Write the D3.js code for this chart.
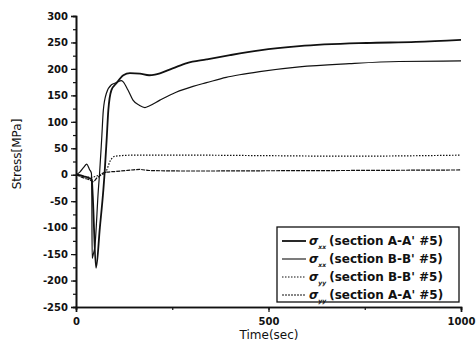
<!DOCTYPE html>
<html><head><meta charset="utf-8">
<script src="https://cdn.jsdelivr.net/npm/d3@7"></script>
<style>
body{margin:0;background:#fff;}
svg text{font-family:"DejaVu Sans",sans-serif;font-weight:bold;fill:#111;}
</style></head><body>
<svg id="c" width="476" height="353"></svg>
<script>
// ---- data ----
const xTicks = [0, 500, 1000];
const yTicks = [-250, -200, -150, -100, -50, 0, 50, 100, 150, 200, 250, 300];

const tA = [0,10,20,30,36,41,43.5,52,62,71,74,79.5,84,92,105,123,140,166,190,205,251,288,339,400,477,580,754,883,1000];
const vA = [0,-1,-3,-5,-7,-9,-40,-176,-100,-29,0,65,122,160,173,188,192,191,188,189,201,211,218,226,235,243,249,251,255];

const tB = [0,10,20,28,35,40,41,42,45,49,58,61,66.5,71,79,92,105,118,122,135,148,165,179,190,218,260,304,339,390,425,477,580,710,839,1000];
const vB = [0,5,14,20,10,3,-30,-158,-150,-136,-29,0,65,122,154,170,174,178,176,160,141,131,127,130,141,156,167,174,184,189,195,204,210,214,215];

const tC = [0,20,40,55,65,72,78,83,88,95,101,150,300,500,700,1000];
const vC = [0,-3,-5,-2,0,2,6,15,25,32,35,37,37,36,35,37];

const tD = [0,20,36,45,53,62,70,80,100,130,166,190,300,500,700,1000];
const vD = [0,-6,-10,-13,-7,-2,3,5,6,8,10,8,7,7.5,8,9];

const seriesNames = ["xx","xx","yy","yy"];
const seriesLabels = ["(section A-A' #5)","(section B-B' #5)","(section B-B' #5)","(section A-A' #5)"];

// ---- chart ----
const svg = d3.select("#c");
const L = 76, R = 461, T = 16, B = 307;
const x = d3.scaleLinear().domain([0,1000]).range([L,R]);
const y = d3.scaleLinear().domain([-250,300]).range([B,T]);
const fmt = d => String(d);

// minor ticks
svg.append("g").attr("transform",`translate(0,${B})`)
  .call(d3.axisBottom(x).tickValues(d3.range(0,1001,250)).tickSize(3).tickFormat(""));
svg.append("g").attr("transform",`translate(0,${B})`)
  .call(d3.axisBottom(x).tickValues(xTicks).tickSize(5).tickPadding(6).tickFormat(fmt));
svg.append("g").attr("transform",`translate(${L},0)`)
  .call(d3.axisLeft(y).tickValues(d3.range(-250,301,25)).tickSize(3).tickFormat(""));
svg.append("g").attr("transform",`translate(${L},0)`)
  .call(d3.axisLeft(y).tickValues(yTicks).tickSize(5).tickPadding(3).tickFormat(fmt));
svg.selectAll(".domain").attr("stroke","#111").attr("stroke-width",1.6);
svg.selectAll(".tick line").attr("stroke","#111").attr("stroke-width",1.2);
svg.selectAll(".tick text").style("font-size","10px").style("font-family","'DejaVu Sans',sans-serif").style("font-weight","bold").attr("fill","#111");

// titles
svg.append("text").attr("x",269).attr("y",339).attr("text-anchor","middle")
  .style("font-size","12px").style("font-weight","normal").text("Time(sec)");
svg.append("text").attr("transform","translate(21,154) rotate(-90)").attr("text-anchor","middle")
  .style("font-size","12px").style("font-weight","normal").text("Stress[MPa]");

// lines
const styles = [
  {w:1.8, dash:null},
  {w:1.2, dash:null},
  {w:1.2, dash:"1.5,1.5"},
  {w:1.2, dash:"4,1"}
];
const data = [[tA,vA],[tB,vB],[tC,vC],[tD,vD]];
const line = d3.line().x(d=>x(d[0])).y(d=>y(d[1])).curve(d3.curveMonotoneX);
data.forEach((s,i)=>{
  const pts = s[0].map((t,j)=>[t,s[1][j]]);
  svg.append("path").datum(pts).attr("d",line).attr("fill","none")
    .attr("stroke","#111").attr("stroke-width",styles[i].w)
    .attr("stroke-dasharray",styles[i].dash);
});

// legend
const lg = svg.append("g");
lg.append("rect").attr("x",277).attr("y",227).attr("width",182).attr("height",75)
  .attr("fill","#fff").attr("stroke","#111").attr("stroke-width",1.3);
const legDash = [null,null,"1.5,1.5","2,1"];
seriesLabels.forEach((lab,i)=>{
  const cy = 241 + i*18;
  lg.append("line").attr("x1",282).attr("x2",306).attr("y1",cy).attr("y2",cy)
    .attr("stroke","#111").attr("stroke-width",i===0?1.8:1.1).attr("stroke-dasharray",legDash[i]);
  const t = lg.append("text").attr("x",309).attr("y",cy+4).style("font-size","12px");
  t.append("tspan").style("font-style","italic").text("σ");
  t.append("tspan").attr("dy",4).style("font-size","6px").style("font-style","italic").text(seriesNames[i]);
  t.append("tspan").attr("dy",-4).attr("dx",3).text(lab);
});
</script>
</body></html>
